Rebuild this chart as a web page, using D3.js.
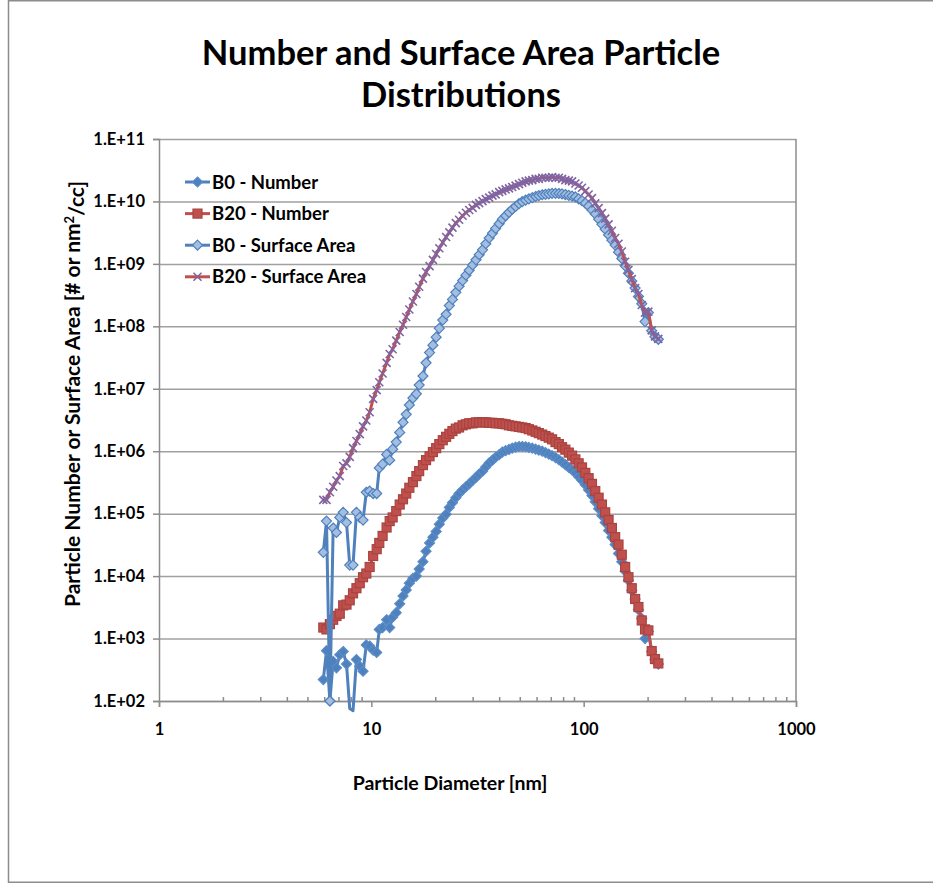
<!DOCTYPE html>
<html>
<head>
<meta charset="utf-8">
<script src="https://cdn.jsdelivr.net/npm/d3@7"></script>
<style>
body { margin: 0; background: #fff; }
svg { display: block; font-family: Lato, "Open Sans", sans-serif; font-weight: bold; }
</style>
</head>
<body>
<script>
// Particle diameters (nm) - SMPS channel midpoints
const diameters = [5.94, 6.15, 6.38, 6.61, 6.85, 7.10, 7.37, 7.64, 7.91, 8.20,
    8.51, 8.82, 9.14, 9.47, 9.82, 10.2, 10.6, 10.9, 11.3, 11.8,
    12.2, 12.6, 13.1, 13.6, 14.1, 14.6, 15.1, 15.7, 16.3, 16.8,
    17.5, 18.1, 18.8, 19.5, 20.2, 20.9, 21.7, 22.5, 23.3, 24.1,
    25.0, 25.9, 26.9, 27.9, 28.9, 30.0, 31.1, 32.2, 33.4, 34.6,
    35.9, 37.2, 38.5, 40.0, 41.4, 42.9, 44.5, 46.1, 47.8, 49.6,
    51.4, 53.3, 55.2, 57.3, 59.4, 61.5, 63.8, 66.1, 68.5, 71.0,
    73.7, 76.4, 79.1, 82.0, 85.1, 88.2, 91.4, 94.7, 98.2, 101.8,
    105.5, 109.4, 113.4, 117.6, 121.9, 126.3, 131.0, 135.8, 140.7, 145.9,
    151.2, 156.8, 162.5, 168.5, 174.7, 181.1, 187.7, 194.6, 201.7, 209.1,
    216.7, 224.7];

const b0Number = [2.2e2, 6.4e2, 1.0e2, 4.3e2, 3.4e2, 5.5e2, 6.2e2, 3.9e2, 7.6e1, 7.0e1,
    4.6e2, 3.6e2, 3.0e2, 7.9e2, 7.6e2, 6.5e2, 6.0e2, 1.4e3, 1.5e3, 2.0e3,
    1.5e3, 2.2e3, 2.6e3, 3.6e3, 4.8e3, 6.0e3, 7.7e3, 9.2e3, 1.0e4, 1.3e4,
    1.7e4, 2.5e4, 3.4e4, 4.2e4, 5.2e4, 6.8e4, 8.5e4, 9.8e4, 1.26e5, 1.5e5,
    1.8e5, 2.1e5, 2.4e5, 2.7e5, 3.0e5, 3.4e5, 3.8e5, 4.3e5, 4.8e5, 5.6e5,
    6.5e5, 7.2e5, 8.0e5, 8.8e5, 9.7e5, 1.02e6, 1.07e6, 1.12e6, 1.16e6, 1.19e6,
    1.19e6, 1.18e6, 1.15e6, 1.12e6, 1.08e6, 1.04e6, 1.0e6, 9.5e5, 9.0e5, 8.5e5,
    7.9e5, 7.3e5, 6.7e5, 6.1e5, 5.5e5, 5.0e5, 4.5e5, 3.9e5, 3.4e5, 2.9e5,
    2.4e5, 1.95e5, 1.55e5, 1.2e5, 9.3e4, 7.2e4, 5.4e4, 4.2e4, 3.2e4, 2.3e4,
    1.7e4, 1.2e4, 8.6e3, 5.9e3, 4.3e3, 2.9e3, 2.1e3, 1.0e3, 1.3e3, 6.2e2,
    4.6e2, 3.9e2];

const b20Number = [1.5e3, 1.4e3, 1.7e3, 2.0e3, 2.3e3, 2.5e3, 3.4e3, 3.5e3, 4.1e3, 5.3e3,
    6.4e3, 7.7e3, 9.6e3, 1.1e4, 1.4e4, 2.1e4, 2.7e4, 3.4e4, 4.4e4, 6.0e4,
    7.6e4, 8.7e4, 1.1e5, 1.4e5, 1.7e5, 2.1e5, 2.6e5, 3.2e5, 4.0e5, 4.8e5,
    6.0e5, 7.2e5, 8.3e5, 9.7e5, 1.12e6, 1.3e6, 1.5e6, 1.7e6, 1.9e6, 2.1e6,
    2.3e6, 2.4e6, 2.6e6, 2.7e6, 2.8e6, 2.8e6, 2.9e6, 2.9e6, 2.9e6, 2.9e6,
    2.85e6, 2.85e6, 2.8e6, 2.8e6, 2.75e6, 2.7e6, 2.6e6, 2.55e6, 2.5e6, 2.45e6,
    2.4e6, 2.35e6, 2.25e6, 2.15e6, 2.05e6, 1.95e6, 1.85e6, 1.75e6, 1.65e6, 1.55e6,
    1.4e6, 1.3e6, 1.16e6, 1.06e6, 9.5e5, 8.5e5, 7.4e5, 6.4e5, 5.5e5, 4.5e5,
    3.7e5, 3.0e5, 2.3e5, 1.8e5, 1.4e5, 1.05e5, 7.9e4, 5.9e4, 4.2e4, 3.2e4,
    2.2e4, 1.4e4, 9.6e3, 6.4e3, 4.3e3, 3.2e3, 1.95e3, 1.4e3, 1.35e3, 6.3e2,
    4.7e2, 4.0e2];

const b0Surface = [2.4e4, 7.6e4, 1.0e2, 5.9e4, 5.0e4, 8.7e4, 1.05e5, 7.2e4, 1.5e4, 1.5e4,
    1.05e5, 8.7e4, 7.9e4, 2.2e5, 2.3e5, 2.1e5, 2.1e5, 5.4e5, 6.2e5, 8.9e5,
    7.2e5, 1.08e6, 1.4e6, 2.0e6, 2.9e6, 3.9e6, 5.5e6, 7.1e6, 8.3e6, 1.15e7,
    1.6e7, 2.6e7, 3.8e7, 5.0e7, 6.7e7, 9.3e7, 1.26e8, 1.56e8, 2.15e8, 2.7e8,
    3.5e8, 4.4e8, 5.4e8, 6.6e8, 7.9e8, 9.6e8, 1.16e9, 1.4e9, 1.68e9, 2.1e9,
    2.6e9, 3.1e9, 3.7e9, 4.4e9, 5.2e9, 5.9e9, 6.7e9, 7.5e9, 8.3e9, 9.2e9,
    9.9e9, 1.05e10, 1.1e10, 1.15e10, 1.2e10, 1.24e10, 1.28e10, 1.3e10, 1.32e10, 1.35e10,
    1.35e10, 1.34e10, 1.32e10, 1.29e10, 1.25e10, 1.22e10, 1.18e10, 1.1e10, 1.03e10, 9.4e9,
    8.4e9, 7.3e9, 6.3e9, 5.2e9, 4.3e9, 3.6e9, 2.9e9, 2.4e9, 2.0e9, 1.54e9,
    1.22e9, 9.3e8, 7.1e8, 5.3e8, 4.1e8, 3.0e8, 2.3e8, 1.19e8, 1.66e8, 8.5e7,
    6.8e7, 6.2e7];

const b20Surface = [1.66e5, 1.66e5, 2.2e5, 2.7e5, 3.4e5, 4.0e5, 5.8e5, 6.4e5, 8.1e5, 1.12e6,
    1.46e6, 1.88e6, 2.5e6, 3.1e6, 4.2e6, 6.9e6, 9.5e6, 1.27e7, 1.76e7, 2.6e7,
    3.6e7, 4.3e7, 5.9e7, 8.1e7, 1.06e8, 1.41e8, 1.86e8, 2.5e8, 3.3e8, 4.3e8,
    5.8e8, 7.4e8, 9.2e8, 1.16e9, 1.44e9, 1.78e9, 2.2e9, 2.7e9, 3.2e9, 3.8e9,
    4.5e9, 5.1e9, 5.9e9, 6.6e9, 7.3e9, 7.9e9, 8.8e9, 9.4e9, 1.01e10, 1.09e10,
    1.15e10, 1.24e10, 1.3e10, 1.41e10, 1.48e10, 1.56e10, 1.62e10, 1.7e10, 1.79e10, 1.89e10,
    1.99e10, 2.1e10, 2.15e10, 2.2e10, 2.3e10, 2.3e10, 2.4e10, 2.4e10, 2.4e10, 2.45e10,
    2.4e10, 2.4e10, 2.3e10, 2.2e10, 2.15e10, 2.1e10, 1.94e10, 1.8e10, 1.66e10, 1.46e10,
    1.29e10, 1.13e10, 9.3e9, 7.8e9, 6.5e9, 5.3e9, 4.3e9, 3.4e9, 2.6e9, 2.1e9,
    1.58e9, 1.08e9, 8.0e8, 5.7e8, 4.1e8, 3.3e8, 2.2e8, 1.66e8, 1.72e8, 8.6e7,
    6.9e7, 6.3e7];

const seriesNames = ["B0 - Number", "B20 - Number", "B0 - Surface Area", "B20 - Surface Area"];
const xTickValues = [1, 10, 100, 1000];
const xTickLabels = ["1", "10", "100", "1000"];
const yTickValues = [1e2, 1e3, 1e4, 1e5, 1e6, 1e7, 1e8, 1e9, 1e10, 1e11];
const yTickLabels = ["1.E+02", "1.E+03", "1.E+04", "1.E+05", "1.E+06", "1.E+07", "1.E+08", "1.E+09", "1.E+10", "1.E+11"];
const titleLines = ["Number and Surface Area Particle", "Distributions"];

// series look: line colour, marker type and colours
const styles = [
    { line: "#4F81BD", marker: "diamond", fill: "#4F81BD", stroke: "#5B8CC8" },
    { line: "#C0504D", marker: "square", fill: "#C0504D", stroke: "#A9433F" },
    { line: "#4F81BD", marker: "diamond", fill: "#A3BEE0", stroke: "#4F81BD" },
    { line: "#C0504D", marker: "cross", fill: "none", stroke: "#8064A2" }
];

const series = [b0Number, b20Number, b0Surface, b20Surface].map(function (vals, i) {
    return {
        name: seriesNames[i],
        style: styles[i],
        points: vals.map(function (v, j) { return { x: diameters[j], y: v }; })
    };
});

var margin = { top: 139, right: 137, bottom: 183, left: 159 },
    width = 933 - margin.left - margin.right,
    height = 884 - margin.top - margin.bottom;

var root = d3.select("body")
    .append("svg")
    .attr("width", 933)
    .attr("height", 884);

// outer chart border
root.append("rect")
    .attr("x", 8.5).attr("y", 0.75)
    .attr("width", 940).attr("height", 881.5)
    .attr("fill", "none")
    .attr("stroke", "#8c8c8c")
    .attr("stroke-width", 1.5);

// title
root.append("g").selectAll("text")
    .data(titleLines)
    .join("text")
    .attr("x", 461)
    .attr("y", (d, i) => 65 + i * 42)
    .attr("text-anchor", "middle")
    .style("font-size", "34.5px")
    .text(d => d);

var svg = root.append("g")
    .attr("transform", `translate(${margin.left},${margin.top})`);

var x = d3.scaleLog().domain([1, 1000]).range([0, width]);
var y = d3.scaleLog().domain([1e2, 1e11]).range([height, 0]);

// horizontal gridlines
svg.append("g")
    .call(d3.axisLeft(y).tickValues(yTickValues).tickSize(-width).tickFormat(""))
    .call(g => g.select(".domain").remove())
    .selectAll("line")
    .attr("stroke", "#a0a0a0")
    .attr("stroke-width", 1.5);

// plot area border (right side)
svg.append("line")
    .attr("x1", width).attr("x2", width)
    .attr("y1", 0).attr("y2", height)
    .attr("stroke", "#8c8c8c")
    .attr("stroke-width", 1.5);

// y axis
svg.append("g")
    .call(d3.axisLeft(y).tickValues(yTickValues).tickSize(6).tickPadding(8)
        .tickFormat((d, i) => yTickLabels[i]))
    .call(g => g.selectAll("line, .domain").attr("stroke", "#8c8c8c").attr("stroke-width", 1.5))
    .selectAll("text")
    .style("font-size", "16.5px")
    .style("font-family", "Lato, sans-serif")
    .attr("fill", "#000");

// x axis minor ticks (inside)
var minor = x.ticks().filter(t => xTickValues.indexOf(t) < 0);
svg.append("g")
    .attr("transform", `translate(0,${height})`)
    .call(d3.axisBottom(x).tickValues(minor).tickSize(-4).tickFormat(""))
    .call(g => g.select(".domain").remove())
    .selectAll("line")
    .attr("stroke", "#8c8c8c")
    .attr("stroke-width", 1.5);

// x axis
svg.append("g")
    .attr("transform", `translate(0,${height})`)
    .call(d3.axisBottom(x).tickValues(xTickValues).tickSize(6).tickPadding(16)
        .tickFormat((d, i) => xTickLabels[i]))
    .call(g => g.selectAll("line, .domain").attr("stroke", "#8c8c8c").attr("stroke-width", 1.5))
    .selectAll("text")
    .style("font-size", "16.5px")
    .style("font-family", "Lato, sans-serif")
    .attr("fill", "#000");

// axis titles
svg.append("text")
    .attr("x", 450 - margin.left)
    .attr("y", 790 - margin.top)
    .attr("text-anchor", "middle")
    .style("font-size", "19.5px")
    .text("Particle Diameter [nm]");

svg.append("text")
    .attr("transform", `translate(${80 - margin.left},${394 - margin.top}) rotate(-90)`)
    .attr("text-anchor", "middle")
    .style("font-size", "21px")
    .text("Particle Number or Surface Area [# or nm")
    .append("tspan").attr("dy", "-0.45em").style("font-size", "13px").text("2")
    .select(function () { return this.parentNode; })
    .append("tspan").attr("dy", "0.45em").text("/cc]");

// marker drawing
function drawMarker(sel, st) {
    if (st.marker === "diamond") {
        sel.append("path")
            .attr("d", "M0,-5L5,0L0,5L-5,0Z")
            .attr("fill", st.fill)
            .attr("stroke", st.stroke)
            .attr("stroke-width", 1.2);
    } else if (st.marker === "square") {
        sel.append("rect")
            .attr("x", -4.5).attr("y", -4.5)
            .attr("width", 9).attr("height", 9)
            .attr("fill", st.fill)
            .attr("stroke", st.stroke)
            .attr("stroke-width", 1.2);
    } else {
        sel.append("path")
            .attr("d", "M-4,-4L4,4M-4,4L4,-4")
            .attr("stroke", st.stroke)
            .attr("stroke-width", 1.6);
    }
}

var line = d3.line()
    .x(d => x(d.x))
    .y(d => y(d.y));

series.forEach(function (s) {
    var g = svg.append("g");
    g.append("path")
        .datum(s.points)
        .attr("d", line)
        .attr("fill", "none")
        .attr("stroke", s.style.line)
        .attr("stroke-width", 3)
        .attr("stroke-linejoin", "round")
        .attr("stroke-linecap", "round");
    g.selectAll("g.pt")
        .data(s.points.filter(d => d.y >= 1e2))
        .join("g")
        .attr("class", "pt")
        .attr("transform", d => `translate(${x(d.x)},${y(d.y)})`)
        .each(function () { drawMarker(d3.select(this), s.style); });
});

// legend
var legend = root.append("g");
series.forEach(function (s, i) {
    var ly = 182 + i * 31.6;
    var row = legend.append("g");
    row.append("line")
        .attr("x1", 185).attr("x2", 210)
        .attr("y1", ly).attr("y2", ly)
        .attr("stroke", s.style.line)
        .attr("stroke-width", 3);
    drawMarker(row.append("g").attr("transform", `translate(197.5,${ly})`), s.style);
    row.append("text")
        .attr("x", 212)
        .attr("y", ly)
        .attr("dy", "0.36em")
        .style("font-size", "18.5px")
        .text(s.name);
});
</script>
</body>
</html>
